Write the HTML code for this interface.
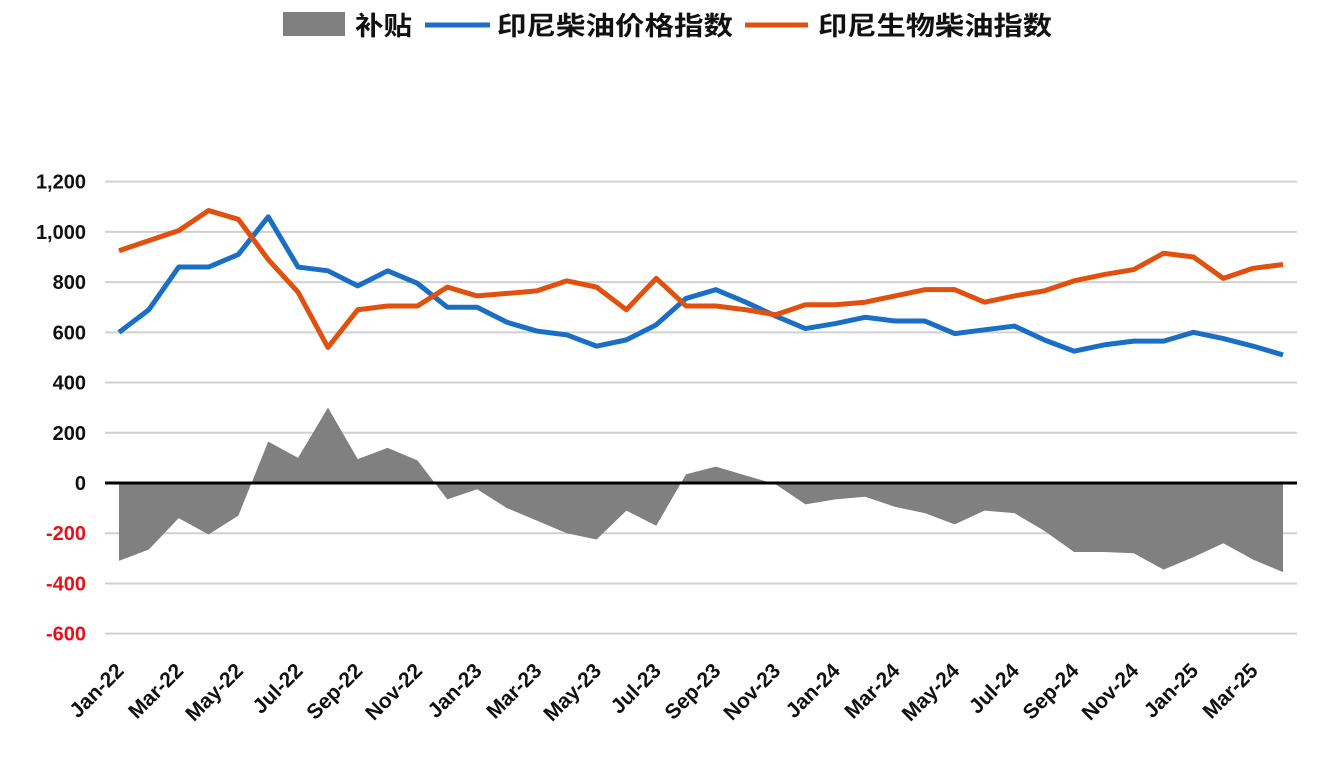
<!DOCTYPE html>
<html><head><meta charset="utf-8"><style>
html,body{margin:0;padding:0;background:#fff;}
svg text{font-family:"Liberation Sans","Noto Sans CJK SC",sans-serif;font-weight:bold;}
</style></head><body>
<svg id="chart" width="1317" height="754" viewBox="0 0 1317 754" xmlns="http://www.w3.org/2000/svg">
<g>
<rect x="283" y="12" width="62" height="24" fill="#808080"/>
<text x="355" y="35" font-size="26" textLength="57" lengthAdjust="spacingAndGlyphs" fill="#111">补贴</text>
<line x1="425" y1="25" x2="490" y2="25" stroke="#1a6fc4" stroke-width="5"/>
<text x="497" y="35" font-size="26" textLength="236" lengthAdjust="spacingAndGlyphs" fill="#111">印尼柴油价格指数</text>
<line x1="745" y1="25" x2="808" y2="25" stroke="#e0500e" stroke-width="5"/>
<text x="818" y="35" font-size="26" textLength="234" lengthAdjust="spacingAndGlyphs" fill="#111">印尼生物柴油指数</text>
</g>
<g id="grid"></g><g id="area"></g><g id="zero"></g><g id="lines"></g><g id="ylab"></g><g id="xlab"></g>
</svg>
<script>
const months = ["Jan-22","Feb-22","Mar-22","Apr-22","May-22","Jun-22","Jul-22","Aug-22","Sep-22","Oct-22","Nov-22","Dec-22","Jan-23","Feb-23","Mar-23","Apr-23","May-23","Jun-23","Jul-23","Aug-23","Sep-23","Oct-23","Nov-23","Dec-23","Jan-24","Feb-24","Mar-24","Apr-24","May-24","Jun-24","Jul-24","Aug-24","Sep-24","Oct-24","Nov-24","Dec-24","Jan-25","Feb-25","Mar-25","Apr-25"];
const diesel = [600,690,860,860,910,1060,860,845,785,845,795,700,700,640,605,590,545,570,630,735,770,720,665,615,635,660,645,645,595,610,625,570,525,550,565,565,600,575,545,510];
const biodiesel = [925,965,1005,1085,1050,890,760,540,690,705,705,780,745,755,765,805,780,690,815,705,705,690,670,710,710,720,745,770,770,720,745,765,805,830,850,915,900,815,855,870];
const subsidy = [-310,-265,-140,-205,-130,165,100,300,95,140,90,-65,-25,-100,-150,-200,-225,-110,-170,35,65,30,-5,-85,-65,-55,-95,-120,-165,-110,-120,-190,-275,-275,-280,-345,-295,-240,-305,-355];
const yTicks = [1200,1000,800,600,400,200,0,-200,-400,-600];
const yTickLabels = ["1,200","1,000","800","600","400","200","0","-200","-400","-600"];

const NS="http://www.w3.org/2000/svg";
const X0=119, DX=(1283-119)/39, Y0=483, K=(634-182)/1800;
const xs=i=>X0+DX*i, ys=v=>Y0-v*K;
function mk(t,a,p){const e=document.createElementNS(NS,t);for(const k in a)e.setAttribute(k,a[k]);document.getElementById(p).appendChild(e);return e;}

yTicks.forEach((v,i)=>{
  if(v!==0){const g=mk('line',{x1:105,x2:1297,y1:ys(v),y2:ys(v),stroke:'#d0d0d0','stroke-width':2},'grid');
  
  }
  const t=mk('text',{x:86,y:ys(v)+7,'text-anchor':'end','font-size':20,fill:v<0?'#e8101a':'#111'},'ylab');
  t.textContent=yTickLabels[i];
  
  
});

let d='M'+xs(0)+','+ys(0);
subsidy.forEach((v,i)=>{d+=' L'+xs(i)+','+ys(v);});
d+=' L'+xs(subsidy.length-1)+','+ys(0)+' Z';
const ar=mk('path',{d:d,fill:'#808080'},'area');



const z=mk('line',{x1:105,x2:1297,y1:ys(0),y2:ys(0),stroke:'#000','stroke-width':3},'zero');



function line(arr,col,name){
  const p=mk('polyline',{points:arr.map((v,i)=>xs(i)+','+ys(v)).join(' '),fill:'none',stroke:col,'stroke-width':5,'stroke-linejoin':'round'},'lines');
  
  
}
line(diesel,'#1a6fc4','diesel-price-line');
line(biodiesel,'#e0500e','biodiesel-index-line');

months.forEach((m,i)=>{
  if(i%2) return;
  const x=xs(i)+6,y=672;
  const t=mk('text',{x:x,y:y,'text-anchor':'end','font-size':21,fill:'#111',transform:'rotate(-45 '+x+' '+y+')'},'xlab');
  t.textContent=m;
  
  
});
</script>
</body></html>
